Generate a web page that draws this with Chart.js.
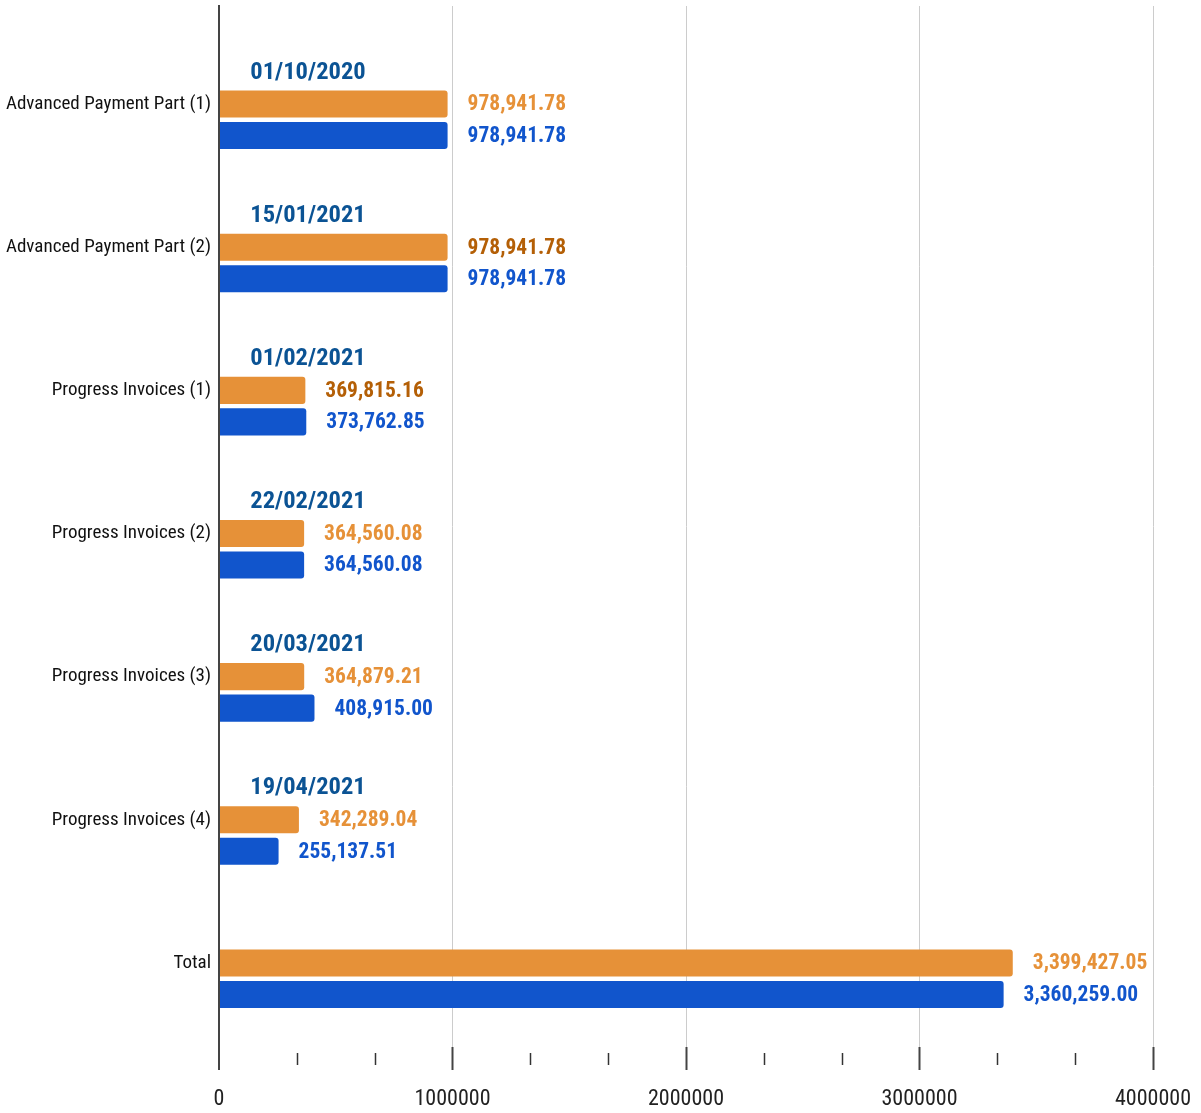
<!DOCTYPE html>
<html>
<head>
<meta charset="utf-8">
<script src="https://cdn.jsdelivr.net/npm/chart.js@4.4.1/dist/chart.umd.min.js"></script>
<style>
  html, body { margin: 0; padding: 0; background: #fff; }
  #wrap { width: 1201px; height: 1113px; }
</style>
</head>
<body>
<div id="wrap"><canvas id="paymentsChart"></canvas></div>
<script>
const categories = [
    'Advanced Payment Part (1)',
    'Advanced Payment Part (2)',
    'Progress Invoices (1)',
    'Progress Invoices (2)',
    'Progress Invoices (3)',
    'Progress Invoices (4)',
    'Total',
];
const invoiceDates = ['01/10/2020', '15/01/2021', '01/02/2021', '22/02/2021', '20/03/2021', '19/04/2021', ''];
const invoicedAmounts = [978941.78, 978941.78, 369815.16, 364560.08, 364879.21, 342289.04, 3399427.05];
const paidAmounts = [978941.78, 978941.78, 373762.85, 364560.08, 408915.00, 255137.51, 3360259.00];
const xTickValues = [0, 1000000, 2000000, 3000000, 4000000];

const narrow = "'Roboto Condensed', 'Liberation Sans Narrow', 'DejaVu Sans Condensed', Roboto, sans-serif";
const ORANGE = '#E69138';
const BLUE = '#1155CC';
const darkOrangeRows = [1, 2];
const Y_MIN = -0.685;
const Y_MAX = 6.587;

function fmt(v) {
    return v.toLocaleString('en-US', { minimumFractionDigits: 2, maximumFractionDigits: 2 });
}

// value labels, date labels and minor ticks
const labelsPlugin = {
    id: 'barLabels',
    afterDatasetsDraw(chart) {
        const ctx = chart.ctx;
        const xScale = chart.scales.x;
        ctx.save();
        ctx.textBaseline = 'middle';

        [1, 2].forEach(function (dsIndex) {
            const meta = chart.getDatasetMeta(dsIndex);
            const values = chart.data.datasets[dsIndex].data;
            meta.data.forEach(function (bar, i) {
                let color = dsIndex === 1 ? ORANGE : BLUE;
                if (dsIndex === 1 && darkOrangeRows.includes(i)) color = '#B45F06';
                ctx.fillStyle = color;
                ctx.font = 'bold 21.5px ' + narrow;
                ctx.textAlign = 'left';
                ctx.fillText(fmt(values[i].x), bar.x + 20, bar.y + 1);
            });
        });

        const dateMeta = chart.getDatasetMeta(0);
        dateMeta.data.forEach(function (bar, i) {
            if (!invoiceDates[i]) return;
            ctx.fillStyle = '#0B5394';
            ctx.font = 'bold 24.5px ' + narrow;
            ctx.textAlign = 'center';
            ctx.fillText(invoiceDates[i], chart.chartArea.left + 89, bar.y);
        });

        // minor ticks at thirds
        const bottom = chart.chartArea.bottom;
        ctx.strokeStyle = '#333';
        ctx.lineWidth = 1.5;
        for (let i = 0; i < xTickValues.length - 1; i++) {
            for (let k = 1; k <= 2; k++) {
                const v = xTickValues[i] + (xTickValues[i + 1] - xTickValues[i]) * k / 3;
                const x = Math.round(xScale.getPixelForValue(v)) + 0.5;
                ctx.beginPath();
                ctx.moveTo(x, bottom + 6);
                ctx.lineTo(x, bottom + 18);
                ctx.stroke();
            }
        }
        ctx.restore();
    },
};

const ctx = document.getElementById('paymentsChart').getContext('2d');
new Chart(ctx, {
    type: 'bar',
    data: {
        datasets: [
            {
                label: 'Date',
                data: categories.map((c, i) => ({ x: 0, y: i })),
                backgroundColor: 'rgba(0,0,0,0)',
            },
            {
                label: 'Invoiced',
                data: invoicedAmounts.map((v, i) => ({ x: v, y: i })),
                backgroundColor: ORANGE,
                borderRadius: 3,
            },
            {
                label: 'Paid',
                data: paidAmounts.map((v, i) => ({ x: v, y: i })),
                backgroundColor: BLUE,
                borderRadius: 3,
            },
        ],
    },
    options: {
        indexAxis: 'y',
        responsive: true,
        maintainAspectRatio: false,
        animation: false,
        categoryPercentage: 0.66,
        barPercentage: 0.86,
        layout: { padding: { top: 6, right: 48, bottom: 0, left: 0 } },
        plugins: {
            legend: { display: false },
            tooltip: { enabled: false },
        },
        scales: {
            x: {
                type: 'linear',
                min: 0,
                max: 4000000,
                afterBuildTicks(scale) {
                    scale.ticks = xTickValues.map(v => ({ value: v }));
                },
                afterFit(scale) {
                    scale.height = 66;
                    scale.paddingLeft = 0;
                    scale.paddingRight = 0;
                },
                ticks: {
                    callback: v => String(v),
                    color: '#222',
                    padding: 16,
                    maxRotation: 0,
                    font: { family: narrow, size: 22 },
                },
                grid: {
                    color: ctx => (ctx.tick && ctx.tick.value === 0 ? '#444' : '#cccccc'),
                    lineWidth: ctx => (ctx.tick && ctx.tick.value === 0 ? 2 : 1),
                    tickColor: '#444',
                    tickLength: 23,
                    tickWidth: 2,
                },
                border: { display: false },
            },
            y: {
                type: 'linear',
                reverse: true,
                offset: false,
                min: Y_MIN,
                max: Y_MAX,
                afterBuildTicks(scale) {
                    scale.ticks = categories.map((c, i) => ({ value: i }));
                },
                afterFit(scale) {
                    scale.width = 219;
                    scale.paddingTop = 0;
                    scale.paddingBottom = 0;
                },
                ticks: {
                    callback: v => categories[v],
                    color: '#111',
                    padding: 8,
                    font: { family: narrow, size: 19 },
                },
                grid: { display: false, drawTicks: false, offset: false },
                border: { display: true, color: '#444', width: 2 },
            },
        },
    },
    plugins: [labelsPlugin],
});
</script>
</body>
</html>
